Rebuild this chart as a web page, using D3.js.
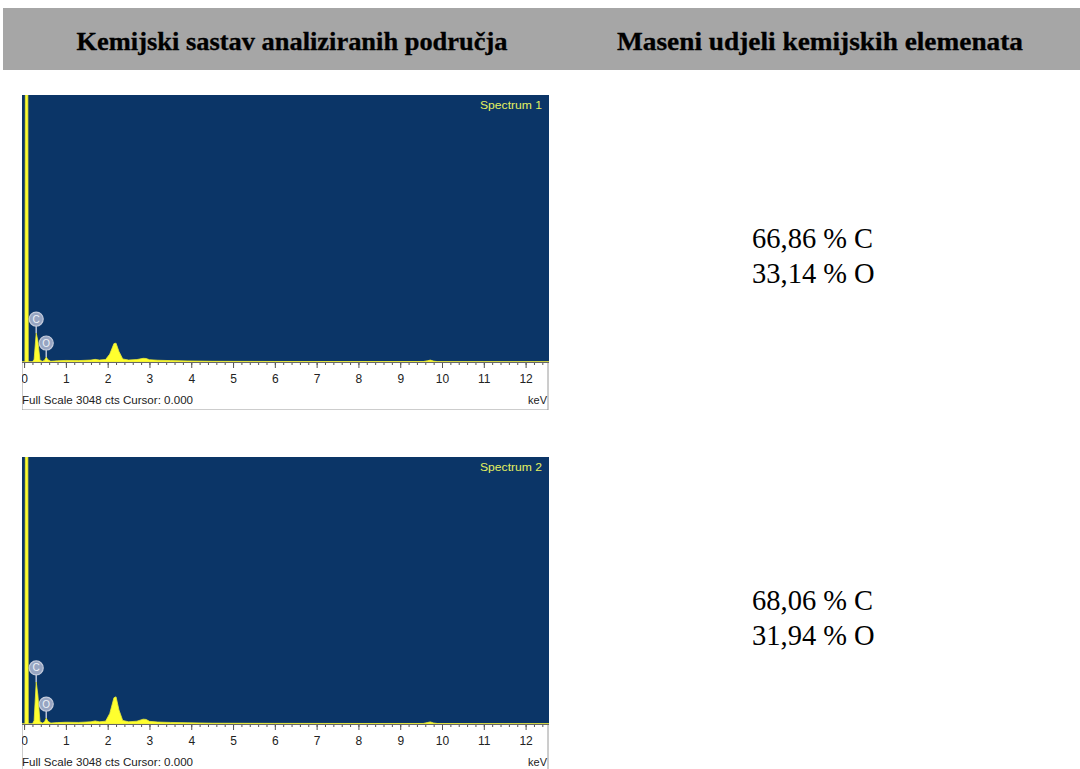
<!DOCTYPE html>
<html>
<head>
<meta charset="utf-8">
<script src="https://cdn.jsdelivr.net/npm/d3@7"></script>
<style>
  body { margin: 0; background: #fff; }
  svg { display: block; }
</style>
</head>
<body>
<script>
// header texts
let headers = ['Kemijski sastav analiziranih područja', 'Maseni udjeli kemijskih elemenata'];

// EDS spectra, energy in keV and counts (full scale 3048 cts)
let fullScale = 3048;
let kev1 = [-0.05, 0.02, 0.03, 0.09, 0.10, 0.2, 0.24, 0.29, 0.33, 0.38, 0.44, 0.49, 0.53, 0.57, 0.64, 0.8, 1.0, 1.3, 1.6, 1.7, 1.8, 1.95, 2.05, 2.15, 2.2, 2.27, 2.36, 2.5, 2.7, 2.85, 2.92, 3.0, 3.2, 3.5, 3.9, 4.5, 6, 8, 9.55, 9.65, 9.72, 9.8, 9.9, 11, 12.6];
let cts1 = [0, 0, 3048, 3048, 0, 0, 30, 330, 240, 20, 8, 20, 57, 25, 8, 14, 18, 16, 22, 30, 22, 28, 90, 210, 215, 120, 35, 22, 28, 42, 40, 26, 20, 16, 12, 8, 6, 5, 5, 14, 22, 10, 4, 3, 2];
let kev2 = [-0.05, 0.02, 0.03, 0.09, 0.10, 0.2, 0.24, 0.29, 0.33, 0.38, 0.44, 0.49, 0.53, 0.57, 0.64, 0.8, 1.0, 1.3, 1.6, 1.7, 1.8, 1.95, 2.05, 2.15, 2.2, 2.27, 2.36, 2.5, 2.7, 2.85, 2.92, 3.0, 3.2, 3.5, 3.9, 4.5, 6, 8, 9.55, 9.65, 9.72, 9.8, 9.9, 11, 12.6];
let cts2 = [0, 0, 3048, 3048, 0, 0, 40, 480, 330, 25, 10, 25, 68, 30, 10, 16, 20, 18, 25, 35, 25, 32, 120, 300, 310, 160, 40, 25, 32, 55, 52, 30, 22, 18, 14, 9, 7, 6, 6, 16, 24, 11, 5, 4, 3];

// element markers: symbol, energy, peak counts
let elements1 = [{el: 'C', kev: 0.29, cts: 330}, {el: 'O', kev: 0.53, cts: 57}];
let elements2 = [{el: 'C', kev: 0.29, cts: 480}, {el: 'O', kev: 0.53, cts: 68}];

// mass fractions
let results1 = ['66,86 % C', '33,14 % O'];
let results2 = ['68,06 % C', '31,94 % O'];

let spectra = [
  {name: 'Spectrum 1', kev: kev1, cts: cts1, elements: elements1, results: results1, top: 95},
  {name: 'Spectrum 2', kev: kev2, cts: cts2, elements: elements2, results: results2, top: 457}
];

let svg = d3.select('body').append('svg').attr('width', 1080).attr('height', 769);
svg.append('rect').attr('width', 1080).attr('height', 769).attr('fill', '#fff');

// header band
svg.append('rect').attr('x', 3).attr('y', 8).attr('width', 1077).attr('height', 62).attr('fill', '#a6a6a6');
let headerX = [292, 820];
let headerW = [431, 406];
svg.selectAll('text.header').data(headers).enter().append('text')
  .attr('class', 'header')
  .attr('x', (d, i) => headerX[i])
  .attr('y', 50)
  .attr('text-anchor', 'middle')
  .attr('font-family', 'Liberation Serif, Times New Roman, serif')
  .attr('font-weight', 'bold')
  .attr('font-size', '25px')
  .attr('stroke', '#000')
  .attr('stroke-width', 0.3)
  .attr('textLength', (d, i) => headerW[i])
  .attr('lengthAdjust', 'spacingAndGlyphs')
  .text(d => d);

let panelX = 22, panelW = 527, plotH = 267, axisH = 48;
let x = d3.scaleLinear().domain([-0.05, 12.56]).range([panelX, panelX + panelW]);

spectra.forEach(function(s, si) {
  let top = s.top;
  let y = d3.scaleLinear().domain([0, fullScale]).range([top + plotH, top]).clamp(true);
  let g = svg.append('g');

  let clipId = 'clip' + si;
  svg.append('clipPath').attr('id', clipId).append('rect')
    .attr('x', panelX).attr('y', top).attr('width', panelW).attr('height', plotH + axisH);

  let inner = g.append('g').attr('clip-path', 'url(#' + clipId + ')');

  // plot background
  inner.append('rect').attr('x', panelX).attr('y', top).attr('width', panelW).attr('height', plotH).attr('fill', '#0b3567');

  // axis area
  inner.append('rect').attr('x', panelX).attr('y', top + plotH).attr('width', panelW - 1).attr('height', axisH)
    .attr('fill', '#fff').attr('stroke', '#9a9a9a').attr('stroke-width', 1);

  // spectrum
  let pts = s.kev.map((k, i) => [k, s.cts[i]]);
  let area = d3.area().x(d => x(d[0])).y0(top + plotH).y1(d => y(d[1]));
  inner.append('path').datum(pts).attr('d', area).attr('fill', '#ffff2e').attr('stroke', '#e8e83a').attr('stroke-width', 0.8);

  // spectrum name
  inner.append('text').attr('x', panelX + panelW - 7).attr('y', top + 14)
    .attr('text-anchor', 'end')
    .attr('font-family', 'Liberation Sans, Arial, sans-serif')
    .attr('font-size', '11.5px')
    .attr('fill', '#e4f060')
    .attr('textLength', 62)
    .attr('lengthAdjust', 'spacingAndGlyphs')
    .text(s.name);

  // element markers
  let mk = inner.selectAll('g.mk').data(s.elements).enter().append('g');
  mk.append('line')
    .attr('x1', d => x(d.kev)).attr('x2', d => x(d.kev))
    .attr('y1', d => y(d.cts) - 8).attr('y2', d => y(d.cts))
    .attr('stroke', '#b8c2d6').attr('stroke-width', 1.5);
  mk.append('circle')
    .attr('cx', d => x(d.kev)).attr('cy', d => y(d.cts) - 14)
    .attr('r', 7)
    .attr('fill', '#97a5c2').attr('stroke', '#c4cbdc').attr('stroke-width', 1.2);
  mk.append('text')
    .attr('x', d => x(d.kev)).attr('y', d => y(d.cts) - 10.5)
    .attr('text-anchor', 'middle')
    .attr('font-family', 'Liberation Sans, Arial, sans-serif')
    .attr('font-size', '10px')
    .attr('fill', '#eef2f8')
    .text(d => d.el);

  // ticks
  let minor = inner.append('g').attr('transform', 'translate(0,' + (top + plotH) + ')')
    .call(d3.axisBottom(x).tickValues(d3.range(0, 12.6, 0.2)).tickSize(3).tickFormat(''));
  minor.select('.domain').remove();
  minor.selectAll('line').attr('stroke', '#555');

  let major = inner.append('g').attr('transform', 'translate(0,' + (top + plotH) + ')')
    .call(d3.axisBottom(x).tickValues(d3.range(0, 13, 1)).tickSize(6).tickPadding(6).tickFormat(d3.format('d')));
  major.select('.domain').remove();
  major.selectAll('line').attr('stroke', '#555');
  major.selectAll('text')
    .attr('font-family', 'Liberation Sans, Arial, sans-serif')
    .attr('font-size', '12px')
    .attr('fill', '#222');

  inner.append('line').attr('x1', panelX).attr('x2', panelX + panelW).attr('y1', top + plotH + 0.5).attr('y2', top + plotH + 0.5)
    .attr('stroke', '#666').attr('stroke-width', 1);

  inner.append('text').attr('x', panelX).attr('y', top + plotH + 42)
    .attr('font-family', 'Liberation Sans, Arial, sans-serif')
    .attr('font-size', '11px')
    .attr('fill', '#222')
    .attr('textLength', 171)
    .attr('lengthAdjust', 'spacingAndGlyphs')
    .text('Full Scale 3048 cts Cursor: 0.000');

  inner.append('text').attr('x', panelX + panelW - 2).attr('y', top + plotH + 42)
    .attr('text-anchor', 'end')
    .attr('font-family', 'Liberation Sans, Arial, sans-serif')
    .attr('font-size', '11px')
    .attr('fill', '#222')
    .text('keV');

  // mass fractions
  svg.selectAll('text.res' + si).data(s.results).enter().append('text')
    .attr('class', 'res' + si)
    .attr('x', 752)
    .attr('y', (d, i) => top + 153 + i * 35)
    .attr('font-family', 'Liberation Serif, Times New Roman, serif')
    .attr('font-size', '28.5px')
    .attr('fill', '#000')
    .text(d => d);
});
</script>
</body>
</html>
